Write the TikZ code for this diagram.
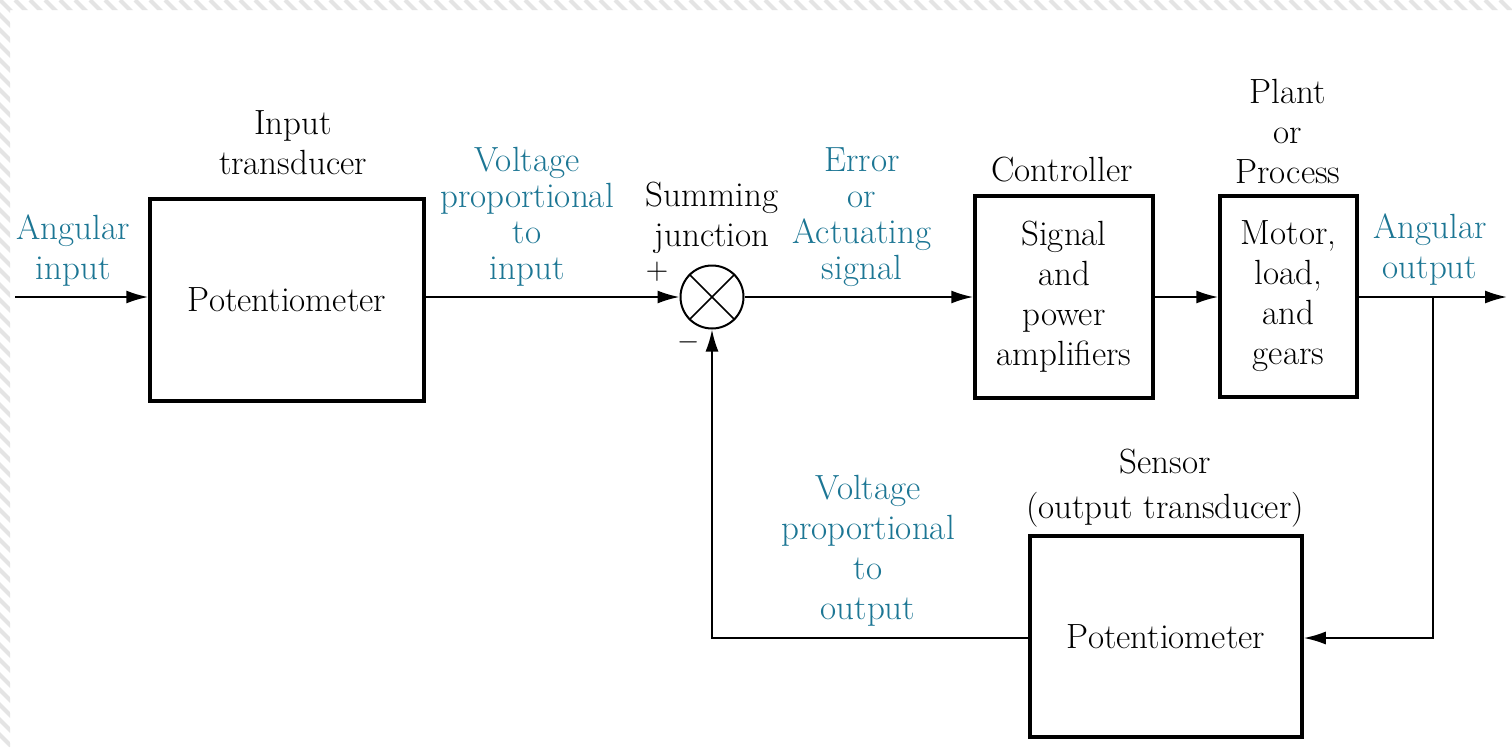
\documentclass[tikz,border=0pt]{standalone}
\usepackage{graphicx}
\usetikzlibrary{arrows.meta}
\definecolor{lbl}{RGB}{28,118,148}
\definecolor{hatch}{RGB}{228,228,228}
\begin{document}
\begin{tikzpicture}[x=1pt,y=-1pt,
  every node/.style={font=\fontsize{35}{40}\selectfont},
  blk/.style={draw, line width=3.5pt, inner sep=0pt, align=center},
  lab/.style={text=lbl, align=center, inner sep=0pt},
  blab/.style={align=center, inner sep=0pt},
  conn/.style={line width=2pt, -{Latex[length=22pt,width=13pt]}},
  sgn/.style={inner sep=0pt}]
\useasboundingbox (0,0) rectangle (1512,747);
\fill[white] (0,0) rectangle (1512,747);
\begin{scope}
  \clip (0,0) rectangle (1512,10) (0,10) rectangle (10,747);
  \foreach \i in {-765,-750,...,1520} \draw[hatch, line width=4pt] (\i,0) -- ++(770,770);
\end{scope}

% blocks
\node[blk, minimum width=274pt, minimum height=202pt] (pot1) at (287,300) {Potentiometer};
\node[draw, circle, line width=2pt, minimum size=63pt, inner sep=0pt] (sum) at (712,297) {};
\draw[line width=1.5pt] (sum.north west) -- (sum.south east) (sum.north east) -- (sum.south west);
\node[blk, minimum width=178pt, minimum height=202pt] (ctl) at (1064,297) {Signal\\and\\power\\amplifiers};
\node[blk, minimum width=137pt, minimum height=201pt] (plant) at (1288.5,296.5) {Motor,\\load,\\and\\gears};
\node[blk, minimum width=272pt, minimum height=201pt] (sens) at (1166,636.5) {Potentiometer};

% connector points
\coordinate (in) at (15,297);
\coordinate (out) at (1507,297);
\coordinate (br) at (1433,297);
\coordinate (fb) at (1433,638);
\coordinate (fc) at (712,638);

\draw[conn] (in) -- (in -| pot1.west);
\draw[conn] (pot1.east |- sum.west) -- (sum.west);
\draw[conn] (sum.east) -- (sum.east -| ctl.west);
\draw[conn] (ctl.east |- sum.east) -- (sum.east -| plant.west);
\draw[conn] (plant.east |- sum.east) -- (out);
\draw[conn] (br) -- (fb) -- (fb -| sens.east);
\draw[conn] (sens.west |- fc) -- (fc) -- (sum.south);

% labels
\node[lab] (ain) at (73,251) {Angular\\input};
\node[blab] (itr) at (293,143) {Input\\transducer};
\node[lab, font=\fontsize{35}{36}\selectfont] (vin) at (527,217) {Voltage\\proportional\\to\\input};
\node[blab] (sj) at (712,218) {Summing\\junction};
\node[lab, font=\fontsize{35}{36}\selectfont] (err) at (862,217) {Error\\or\\Actuating\\signal};
\node[blab] (ctll) at (1062,170) {Controller};
\node[blab] (pl) at (1288,131) {Plant\\or\\Process};
\node[lab] (aout) at (1430,250) {Angular\\output};
\node[blab, font=\fontsize{35}{45}\selectfont] (sl) at (1165,488) {Sensor\\(output transducer)};
\node[lab] (vout) at (868,551) {Voltage\\proportional\\to\\output};
\node[sgn] (plus) at (657,272) {\scalebox{1.25}{$+$}};
\node[sgn] (minus) at (689,342) {\scalebox{1.15}{$-$}};
\end{tikzpicture}
\end{document}
